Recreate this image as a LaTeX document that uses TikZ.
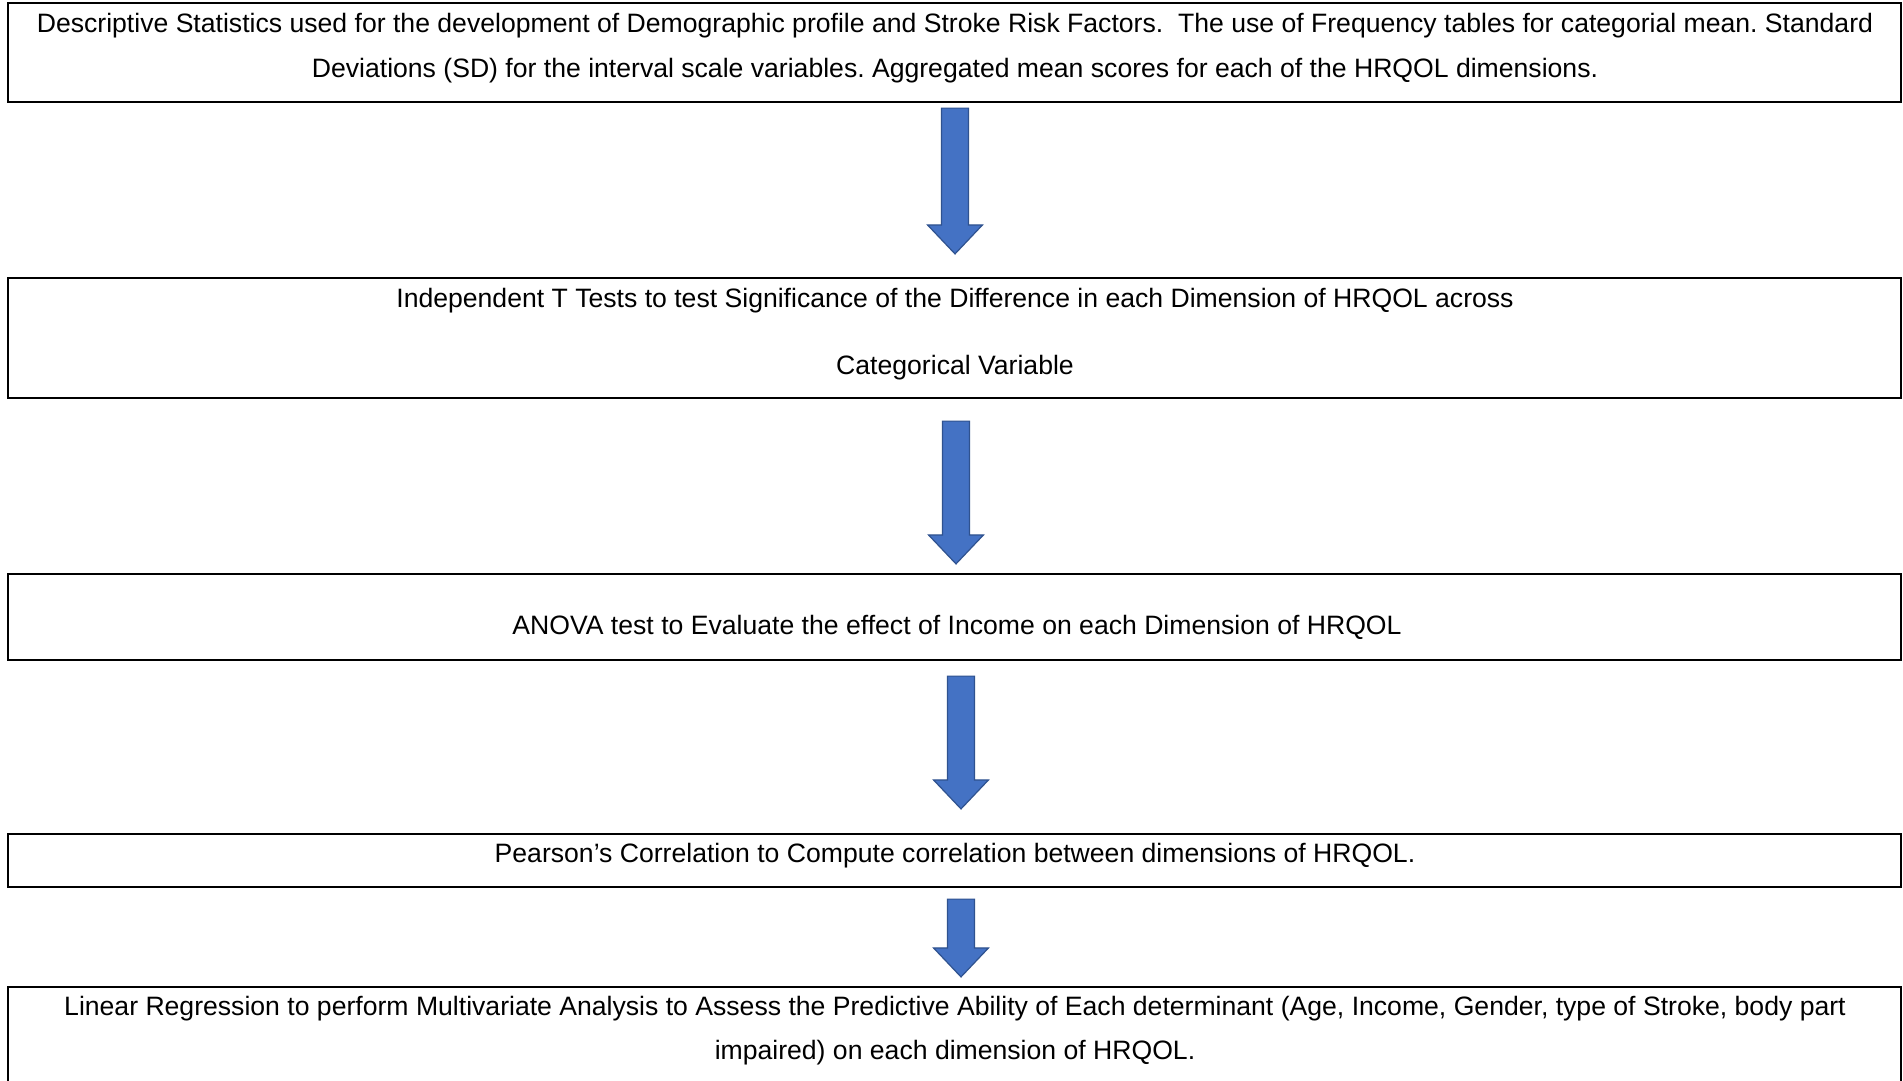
\documentclass[tikz,border=0pt]{standalone}
\usepackage{fontspec}
\setmainfont{Liberation Sans}
\usetikzlibrary{calc}
\frenchspacing

\definecolor{arrowfill}{HTML}{4472C4}
\definecolor{arrowedge}{HTML}{2F528F}

\tikzset{
  stagebox/.style={draw=black, line width=2.2pt, fill=white, rectangle, inner sep=0pt},
  stagetext/.style={anchor=base, inner sep=0pt, font=\fontsize{26.6}{30}\selectfont},
  blockarrow/.style={fill=arrowfill, draw=arrowedge, line width=1.2pt, line join=miter}
}

% block arrow from the bottom of #1 to the top of #2, shifted by #3,
% leaving gaps #4 (top) and #5 (bottom)
\newcommand\blockarrow[5]{%
  \coordinate (#1-#2-s) at ($(#1.south)+(#3,#4)$);
  \coordinate (#1-#2-t) at ($(#2.north)+(#3,-#5)$);
  \draw[blockarrow]
    ($(#1-#2-s)+(-13.5,0)$) -- ($(#1-#2-s)+(13.5,0)$)
    -- ($(#1-#2-t)+(13.5,-29)$) -- ($(#1-#2-t)+(27.5,-29)$)
    -- (#1-#2-t)
    -- ($(#1-#2-t)+(-27.5,-29)$) -- ($(#1-#2-t)+(-13.5,-29)$) -- cycle;
}

\begin{document}
\begin{tikzpicture}[x=1pt, y=-1pt]
  \useasboundingbox (0,0) rectangle (1903,1080);
  \fill[white] (0,0) rectangle (1903,1080);

  % stage boxes
  \node[stagebox, minimum width=1893, minimum height=99] (b1) at (954.5,52.5) {};
  \node[stagebox, minimum width=1893, minimum height=120] (b2) at (954.5,338) {};
  \node[stagebox, minimum width=1893, minimum height=86] (b3) at (954.5,617) {};
  \node[stagebox, minimum width=1893, minimum height=53] (b4) at (954.5,860.5) {};
  \node[stagebox, minimum width=1893, minimum height=110] (b5) at (954.5,1042) {};

  % texts
  \node[stagetext] (t1a) at (955,32) {Descriptive Statistics used for the development of Demographic profile and Stroke Risk Factors.\ \ The use of Frequency tables for categorial mean. Standard};
  \node[stagetext] (t1b) at (955,77) {Deviations (SD) for the interval scale variables. Aggregated mean scores for each of the HRQOL dimensions.};
  \node[stagetext] (t2a) at (955,307) {Independent T Tests to test Significance of the Difference in each Dimension of HRQOL across};
  \node[stagetext] (t2b) at (955,374) {Categorical Variable};
  \node[stagetext] (t3) at (957,634) {ANOVA test to Evaluate the effect of Income on each Dimension of HRQOL};
  \node[stagetext] (t4) at (955,862) {Pearson’s Correlation to Compute correlation between dimensions of HRQOL.};
  \node[stagetext] (t5a) at (955,1015) {Linear Regression to perform Multivariate Analysis to Assess the Predictive Ability of Each determinant (Age, Income, Gender, type of Stroke, body part};
  \node[stagetext] (t5b) at (955,1059) {impaired) on each dimension of HRQOL.};

  % connecting arrows
  \blockarrow{b1}{b2}{0.5}{5}{23}
  \blockarrow{b2}{b3}{1.5}{22}{9}
  \blockarrow{b3}{b4}{6.5}{15}{24}
  \blockarrow{b4}{b5}{6.5}{11}{9}
\end{tikzpicture}
\end{document}
